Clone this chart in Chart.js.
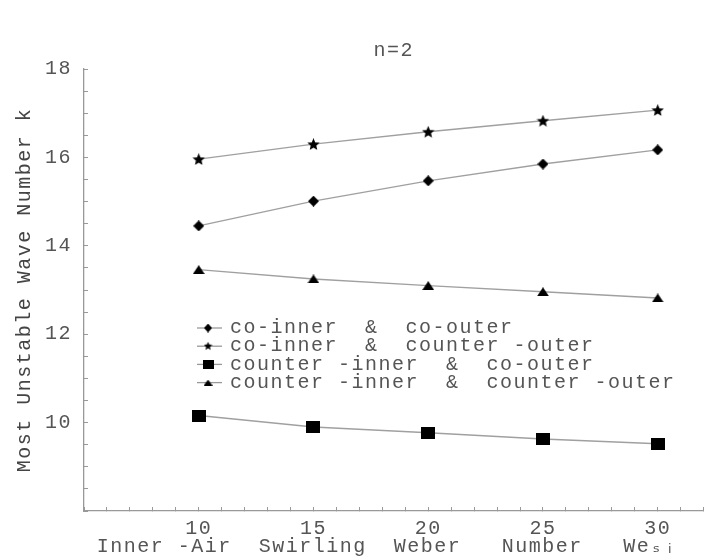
<!DOCTYPE html>
<html>
<head>
<meta charset="utf-8">
<script src="https://cdn.jsdelivr.net/npm/chart.js@4.4.1/dist/chart.umd.min.js"></script>
<style>
  html, body { margin: 0; padding: 0; background: #fff; }
  #wrap { width: 711px; height: 558px; }
</style>
</head>
<body>
<div id="wrap"><canvas id="wave-chart" width="711" height="558"></canvas></div>
<script>
var weberNumbers = [10, 15, 20, 25, 30];
var coInnerCoOuter = [14.45, 15.01, 15.47, 15.85, 16.17];
var coInnerCounterOuter = [15.96, 16.30, 16.58, 16.83, 17.07];
var counterInnerCoOuter = [10.16, 9.90, 9.77, 9.63, 9.52];
var counterInnerCounterOuter = [13.46, 13.25, 13.10, 12.96, 12.82];
var seriesLabels = [
    'co-inner  &  co-outer',
    'co-inner  &  counter -outer',
    'counter -inner  &  co-outer',
    'counter -inner  &  counter -outer'
];
var xTickLabels = [10, 15, 20, 25, 30];
var yTickLabels = [10, 12, 14, 16, 18];
var xAxisTitle = 'Inner -Air  Swirling  Weber   Number   We\u209B\u1D62 ';
var yAxisTitle = 'Most Unstable Wave Number k';
var chartTitle = 'n=2';

var monoFont = '"Liberation Mono", "DejaVu Sans Mono", monospace';
var textColor = '#555';

// filled marker glyphs, drawn once and used as point styles
function markerCanvas(kind, w, h) {
    var c = document.createElement('canvas');
    c.width = w;
    c.height = h;
    var g = c.getContext('2d');
    g.fillStyle = '#000';
    g.beginPath();
    if (kind === 'diamond') {
        g.moveTo(w / 2, 0); g.lineTo(w, h / 2); g.lineTo(w / 2, h); g.lineTo(0, h / 2);
    } else if (kind === 'square') {
        g.rect(0, 0, w, h);
    } else if (kind === 'triangle') {
        g.moveTo(w / 2, 0); g.lineTo(w, h); g.lineTo(0, h);
    } else {
        var R = w / 2, r = R * 0.45, cx = w / 2, cy = R;
        for (var k = 0; k < 10; k++) {
            var a = -Math.PI / 2 + k * Math.PI / 5;
            var rr = (k % 2 === 0) ? R : r;
            g.lineTo(cx + rr * Math.cos(a), cy + rr * Math.sin(a));
        }
    }
    g.closePath();
    g.fill();
    return c;
}

var plotMarkers = [
    markerCanvas('diamond', 11, 11),
    markerCanvas('star', 13, 12),
    markerCanvas('square', 14, 12),
    markerCanvas('triangle', 12, 9)
];
var legendMarkers = [
    markerCanvas('diamond', 8, 9),
    markerCanvas('star', 9, 9),
    markerCanvas('square', 11, 9),
    markerCanvas('triangle', 9, 6)
];

function toPoints(values) {
    return values.map(function (v, i) { return { x: weberNumbers[i], y: v }; });
}

var seriesValues = [coInnerCoOuter, coInnerCounterOuter, counterInnerCoOuter, counterInnerCounterOuter];

var datasets = seriesValues.map(function (vals, i) {
    return {
        label: seriesLabels[i],
        data: toPoints(vals),
        borderColor: '#a0a0a0',
        borderWidth: 1.4,
        pointStyle: plotMarkers[i],
        pointRadius: 6,
        pointHoverRadius: 6,
        fill: false,
        tension: 0
    };
});

// wider mono text like the original
var letterSpacing = {
    id: 'letterSpacing',
    beforeLayout: function (chart) { chart.ctx.letterSpacing = '1.5px'; },
    beforeDraw: function (chart) { chart.ctx.letterSpacing = '1.5px'; }
};

// legend sits inside the plot
var insideLegend = {
    id: 'insideLegend',
    afterDatasetsDraw: function (chart) {
        var ctx = chart.ctx;
        var area = chart.chartArea;
        var x0 = area.left + 124;
        var top = area.top + 259;
        ctx.save();
        ctx.letterSpacing = '1.5px';
        ctx.font = '20px ' + monoFont;
        ctx.textBaseline = 'middle';
        ctx.textAlign = 'left';
        chart.data.datasets.forEach(function (ds, i) {
            var y = top + i * 18.2;
            ctx.strokeStyle = '#999';
            ctx.lineWidth = 1.3;
            ctx.beginPath();
            ctx.moveTo(x0 - 11, y);
            ctx.lineTo(x0 + 14, y);
            ctx.stroke();
            var img = legendMarkers[i];
            ctx.drawImage(img, x0 - img.width / 2, y - img.height / 2);
            ctx.fillStyle = textColor;
            ctx.fillText(ds.label, x0 + 22, y);
        });
        ctx.restore();
    }
};

var chartCanvas = document.getElementById('wave-chart');

new Chart(chartCanvas, {
    type: 'line',
    data: { datasets: datasets },
    plugins: [letterSpacing, insideLegend],
    options: {
        responsive: false,
        animation: false,
        devicePixelRatio: 1,
        layout: { padding: { left: 0, right: 0, top: 0, bottom: 0 } },
        plugins: {
            legend: { display: false },
            tooltip: { enabled: false },
            title: {
                display: true,
                text: chartTitle,
                fullSize: false,
                color: textColor,
                font: { family: monoFont, size: 20, weight: 'normal', lineHeight: 1 },
                padding: { top: 41, bottom: 8 }
            }
        },
        scales: {
            x: {
                type: 'linear',
                min: 5,
                max: 32,
                grid: { drawOnChartArea: false, tickLength: -4, color: '#999' },
                border: { color: '#999', width: 1.3 },
                ticks: {
                    stepSize: 1,
                    autoSkip: false,
                    maxRotation: 0,
                    padding: 6,
                    color: textColor,
                    font: { family: monoFont, size: 20, lineHeight: 1.55 },
                    callback: function (v) { return xTickLabels.indexOf(v) >= 0 ? String(v) : ''; }
                },
                title: {
                    display: true,
                    text: xAxisTitle,
                    color: textColor,
                    font: { family: monoFont, size: 20, lineHeight: 1 },
                    padding: { top: -13, bottom: 1 }
                }
            },
            y: {
                type: 'linear',
                min: 8,
                max: 18,
                grid: { drawOnChartArea: false, tickLength: -4, color: '#999' },
                border: { color: '#999', width: 1.3 },
                ticks: {
                    stepSize: 0.5,
                    autoSkip: false,
                    padding: 16,
                    color: textColor,
                    font: { family: monoFont, size: 20, lineHeight: 1 },
                    callback: function (v) { return yTickLabels.indexOf(v) >= 0 ? String(v) : ''; }
                },
                title: {
                    display: true,
                    text: yAxisTitle,
                    color: '#444',
                    font: { family: monoFont, size: 20, lineHeight: 1 },
                    padding: { top: 15, bottom: -6 }
                }
            }
        }
    }
});
</script>
</body>
</html>
